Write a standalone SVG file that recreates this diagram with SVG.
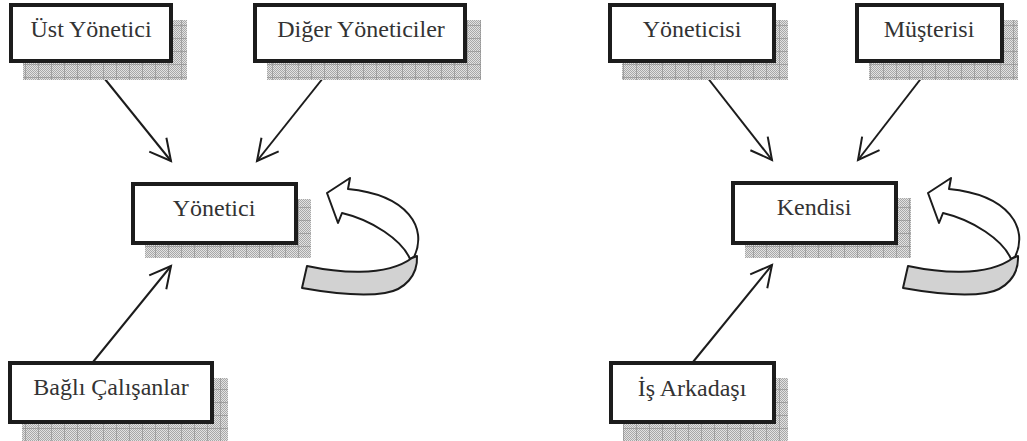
<svg xmlns="http://www.w3.org/2000/svg" width="1027" height="441" viewBox="0 0 1027 441">
<style>
.box{fill:#fff;stroke:#1c1c1c;stroke-width:4}
.sh{fill:url(#dots)}
.shg{fill:url(#grid)}
.lbl{font-size:24px;fill:#333;text-anchor:middle}
.con{stroke:#1c1c1c;stroke-width:2;fill:none;marker-end:url(#vhead)}
.rib{fill:#fff;stroke:#1c1c1c;stroke-width:2;stroke-linejoin:round}
.gry{fill:#d2d2d2;stroke:#1c1c1c;stroke-width:2;stroke-linejoin:round}
</style>
<defs>
<pattern id="dots" width="2" height="2" patternUnits="userSpaceOnUse">
<rect width="2" height="2" fill="#e2e2e2"/>
<rect width="1" height="1" fill="#a8a8a8"/>
<rect x="1" y="1" width="1" height="1" fill="#a8a8a8"/>
</pattern>
<pattern id="grid" width="13" height="13" patternUnits="userSpaceOnUse">
<path d="M12.5,0V13M0,12.5H13" stroke="#8a8a8a" stroke-width="1" fill="none" opacity="0.6"/>
</pattern>
<marker id="vhead" markerUnits="userSpaceOnUse" viewBox="-24 -13 26 26" refX="0" refY="0" markerWidth="26" markerHeight="26" orient="auto" overflow="visible">
<path d="M-21,-11L0,0L-21,11" fill="none" stroke="#1c1c1c" stroke-width="2"/>
</marker>
</defs>

<g id="connectors">
<line class="con" x1="92" y1="63" x2="171" y2="161"/>
<line class="con" x1="335" y1="63" x2="257" y2="161"/>
<line class="con" x1="93" y1="362" x2="171" y2="266"/>
<line class="con" x1="696" y1="63" x2="772" y2="160"/>
<line class="con" x1="933" y1="63" x2="858" y2="160"/>
<line class="con" x1="693" y1="362" x2="772" y2="265"/>
</g>

<g font-family="Liberation Serif, Times New Roman, DejaVu Serif, serif">
<g id="ust-yonetici">
<rect class="sh" x="23" y="20" width="164" height="60"/><rect class="shg" x="23" y="20" width="164" height="60"/>
<rect class="box" x="11" y="5" width="160" height="56"/>
<text class="lbl" x="91" y="37">Üst Yönetici</text>
</g>
<g id="diger-yoneticiler">
<rect class="sh" x="267" y="20" width="214" height="60"/><rect class="shg" x="267" y="20" width="214" height="60"/>
<rect class="box" x="255" y="5" width="210" height="56"/>
<text class="lbl" x="361" y="37">Diğer Yöneticiler</text>
</g>
<g id="yonetici">
<rect class="sh" x="145" y="199" width="166" height="59"/><rect class="shg" x="145" y="199" width="166" height="59"/>
<rect class="box" x="133" y="184" width="163" height="59"/>
<text class="lbl" x="214" y="216">Yönetici</text>
</g>
<g id="bagli-calisanlar">
<rect class="sh" x="22" y="378" width="206" height="63"/><rect class="shg" x="22" y="378" width="206" height="63"/>
<rect class="box" x="10" y="363" width="202" height="59"/>
<text class="lbl" x="111" y="395">Bağlı Çalışanlar</text>
</g>
<g id="yoneticisi">
<rect class="sh" x="622" y="20" width="166" height="60"/><rect class="shg" x="622" y="20" width="166" height="60"/>
<rect class="box" x="610" y="5" width="164" height="56"/>
<text class="lbl" x="692" y="37">Yöneticisi</text>
</g>
<g id="musterisi">
<rect class="sh" x="869" y="20" width="149" height="60"/><rect class="shg" x="869" y="20" width="149" height="60"/>
<rect class="box" x="857" y="5" width="145" height="56"/>
<text class="lbl" x="929" y="37">Müşterisi</text>
</g>
<g id="kendisi">
<rect class="sh" x="745" y="198" width="166" height="60"/><rect class="shg" x="745" y="198" width="166" height="60"/>
<rect class="box" x="733" y="183" width="163" height="60"/>
<text class="lbl" x="814" y="215">Kendisi</text>
</g>
<g id="is-arkadasi">
<rect class="sh" x="623" y="378" width="165" height="63"/><rect class="shg" x="623" y="378" width="165" height="63"/>
<rect class="box" x="611" y="363" width="163" height="59"/>
<text class="lbl" x="692" y="396">İş Arkadaşı</text>
</g>
</g>

<g id="self-arrow-left">
<path class="rib" d="M348,189 L350,178 L327,193 L338,223 L342,213 C372,220 402,240 410,259 L414,257 C428,228 408,195 348,189 Z"/>
<path class="gry" d="M307,266 C335,272 385,278 412,258 L417,256 C418,275 405,290 385,293 C360,297 330,293 302,288 Z"/>
</g>
<g id="self-arrow-right" transform="translate(601,0)">
<path class="rib" d="M348,189 L350,178 L327,193 L338,223 L342,213 C372,220 402,240 410,259 L414,257 C428,228 408,195 348,189 Z"/>
<path class="gry" d="M307,266 C335,272 385,278 412,258 L417,256 C418,275 405,290 385,293 C360,297 330,293 302,288 Z"/>
</g>
</svg>
